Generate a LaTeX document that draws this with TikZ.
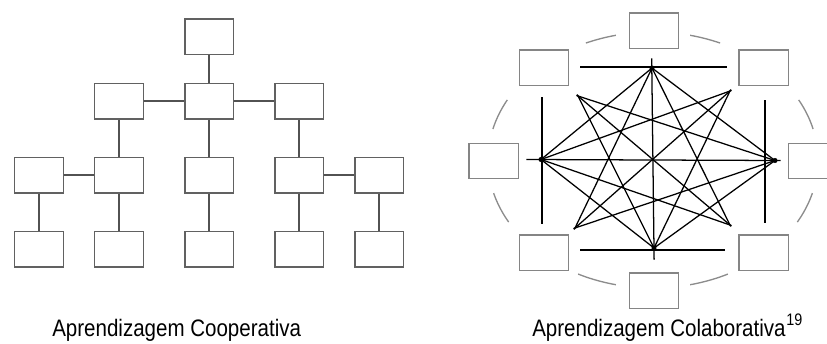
\documentclass[tikz,border=0pt]{standalone}
\usepackage{fontspec}
\usepackage{graphicx}
\setmainfont{Liberation Sans}
\begin{document}
\begin{tikzpicture}[x=0.75pt,y=-0.75pt,
  cbox/.style={draw=black!62,line width=1.1pt,fill=white,minimum width=36.5pt,minimum height=26.5pt,inner sep=0pt},
  rbox/.style={draw=black!48,line width=1.0pt,fill=white,minimum width=37pt,minimum height=26.5pt,inner sep=0pt},
  link/.style={draw=black!68,line width=1.4pt},
  sedge/.style={draw=black,line width=0.95pt,shorten <=-1.2pt,shorten >=-1.2pt},
  bar/.style={draw=black,line width=1.1pt},
  orbit/.style={draw=black!45,line width=1pt},
  vdot/.style={fill=black,circle,inner sep=0pt,minimum size=3.8pt},
  capt/.style={font=\fontsize{15.4}{18}\selectfont,inner sep=0pt,text=black}
]
\useasboundingbox (0,0) rectangle (827,343);

% ---------- Aprendizagem Cooperativa ----------
\node[cbox] (a1) at (209.3,36.7) {};
\node[cbox] (b1) at (119,101.2) {};
\node[cbox] (b2) at (209.3,101.2) {};
\node[cbox] (b3) at (299.3,101.2) {};
\node[cbox] (c1) at (39,175.3) {};
\node[cbox] (c2) at (119,175.3) {};
\node[cbox] (c3) at (209.3,175.3) {};
\node[cbox] (c4) at (299.3,175.3) {};
\node[cbox] (c5) at (379.3,175.3) {};
\node[cbox] (d1) at (39,249.3) {};
\node[cbox] (d2) at (119,249.3) {};
\node[cbox] (d3) at (209.3,249.3) {};
\node[cbox] (d4) at (299.3,249.3) {};
\node[cbox] (d5) at (379.3,249.3) {};

\draw[link] (a1.south) -- (b2.north);
\draw[link] (b1.east) -- (b2.west);
\draw[link] (b2.east) -- (b3.west);
\draw[link] (b1.south) -- (c2.north);
\draw[link] (b2.south) -- (c3.north);
\draw[link] (b3.south) -- (c4.north);
\draw[link] (c1.east) -- (c2.west);
\draw[link] (c4.east) -- (c5.west);
\foreach \i in {1,...,5} {\draw[link] (c\i.south) -- (d\i.north);}

% ---------- Aprendizagem Colaborativa ----------
\foreach \a/\b in {14/28,66/77,103/114,152/166,195/209,243/257,283/297,331/345}
  {\draw[orbit] plot[domain=\a:\b,samples=20] ({653+165*cos(\x)},{160-128*sin(\x)});}

\node[rbox] (rT) at (654,30.5) {};
\node[rbox] (rB) at (654,290.5) {};
\node[rbox] (rL) at (493.5,161) {};
\node[rbox] (rR) at (813,161) {};
\node[rbox] (rUL) at (544,67.5) {};
\node[rbox] (rUR) at (763.5,67.5) {};
\node[rbox] (rLL) at (544,252.5) {};
\node[rbox] (rLR) at (763.5,252.5) {};

\coordinate (T) at (652,68);
\coordinate (B) at (654,248);
\coordinate (L) at (541,159.5);
\coordinate (R) at (775,160.5);
\coordinate (UL) at (578,96);
\coordinate (UR) at (730,91);
\coordinate (LL) at (575,228);
\coordinate (LR) at (730,225);
\coordinate (Tx) at (651.7,60);
\coordinate (Bx) at (654.1,258);
\coordinate (Lx) at (528,159.5);
\coordinate (Rx) at (779,160.5);

\draw[sedge] (Tx) -- (Bx);
\draw[sedge] (Lx) -- (Rx);
\foreach \p/\q in {T/L,T/R,B/L,B/R,UL/LR,UR/LL,T/LL,T/LR,R/UL,R/LL,B/UL,B/UR,L/UR,L/LR}
  {\draw[sedge] (\p) -- (\q);}

\coordinate (tb1) at (580,67);  \coordinate (tb2) at (727,67);
\coordinate (bb1) at (580,250); \coordinate (bb2) at (725,250);
\coordinate (lb1) at (542,97);  \coordinate (lb2) at (542,224);
\coordinate (rb1) at (765,100); \coordinate (rb2) at (765,223);
\draw[bar] (tb1) -- (tb2);
\draw[bar] (bb1) -- (bb2);
\draw[bar] (lb1) -- (lb2);
\draw[bar] (rb1) -- (rb2);

\node[vdot] (dT) at (T) {};
\node[vdot] (dB) at (B) {};
\node[vdot] (dL) at (L) {};
\node[vdot] (dR) at (R) {};

% ---------- captions ----------
\node[capt,anchor=base west] (cap1) at (52,336) {\scalebox{1}[1.16]{Aprendizagem Cooperativa}};
\node[capt,anchor=base west] (cap2) at (532,336) {\scalebox{1}[1.16]{Aprendizagem Colaborativa\kern0.5pt\raisebox{1.5pt}{\textsuperscript{19}}}};
\end{tikzpicture}
\end{document}
